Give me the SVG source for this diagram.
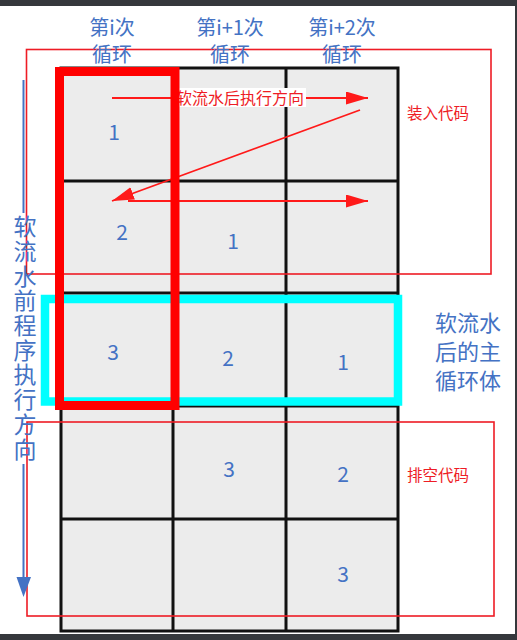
<svg xmlns="http://www.w3.org/2000/svg" width="517" height="640" viewBox="0 0 517 640">
<defs>
<style>
.cjk{font-family:"Noto Sans CJK SC","Noto Sans",sans-serif}
.blue{fill:#4472c4}
.num{font-family:"Noto Sans CJK SC","Noto Sans",sans-serif;font-size:21px;fill:#4472c4;text-anchor:middle}
.hdr{font-family:"Noto Sans CJK SC","Noto Sans",sans-serif;font-size:20px;fill:#4472c4;text-anchor:middle}
.grid{stroke:#111;stroke-width:3;fill:none}
.thin{fill:none;stroke:#ee1c25;stroke-width:1.6}
.arr{stroke:#ff1a1a;stroke-width:1.8;fill:none;marker-end:url(#rh)}
.lbl{font-family:"Noto Sans CJK SC","Noto Sans",sans-serif;fill:#ee1c25}
</style>
<marker id="rh" markerUnits="userSpaceOnUse" markerWidth="24" markerHeight="14" refX="22" refY="6.5" orient="auto">
<path d="M0,0 L22,6.5 L0,13 z" fill="#ff1a1a"/>
</marker>
</defs>
<rect x="0" y="0" width="517" height="640" fill="#ffffff"/>
<rect x="0" y="0" width="517" height="6" fill="#35383c"/>
<rect x="0" y="634" width="517" height="6" fill="#35383c"/>
<rect x="515" y="0" width="2" height="640" fill="#35383c"/>

<g id="grid">
<rect x="61" y="68" width="337" height="563" fill="#ececec"/>
<path class="grid" d="M61,68 H398 V631 H61 Z M173,68 V631 M286,68 V631 M61,181 H398 M61,293 H398 M61,406 H398 M61,519 H398"/>
</g>

<g id="cell-numbers">
<text class="num" x="114" y="140">1</text>
<text class="num" x="122" y="240">2</text>
<text class="num" x="233" y="249">1</text>
<text class="num" x="113" y="360">3</text>
<text class="num" x="228" y="366">2</text>
<text class="num" x="343" y="370">1</text>
<text class="num" x="229" y="477">3</text>
<text class="num" x="343" y="482">2</text>
<text class="num" x="343" y="582">3</text>
</g>

<g id="load-code">
<rect class="thin" x="26.5" y="49.5" width="464.5" height="224.5"/>
<text class="lbl" x="407" y="119" font-size="15.5">装入代码</text>
</g>

<g id="drain-code">
<rect class="thin" x="27" y="422" width="467" height="194"/>
<text class="lbl" x="407" y="481" font-size="15.5">排空代码</text>
</g>

<g id="connectors">
<line class="arr" x1="112" y1="98" x2="368" y2="98"/>
<line class="arr" x1="360" y1="110" x2="112" y2="201"/>
<line class="arr" x1="128" y1="201" x2="368" y2="201"/>
<path d="M23.5,80 V213 M23.5,464 V580" stroke="#4472c4" stroke-width="2" fill="none"/>
<path d="M16.5,577 L31,577 L23.5,597 Z" fill="#4472c4"/>
</g>

<g id="exec-label">
<rect x="172" y="88" width="134" height="19" fill="#ffffff"/>
<text class="lbl" x="240" y="104" font-size="16" text-anchor="middle">软流水后执行方向</text>
</g>

<g id="main-loop">
<rect x="45" y="299" width="353" height="102.5" fill="none" stroke="#00ffff" stroke-width="8.5"/>
<text class="cjk blue" font-size="22" x="468" y="331" text-anchor="middle">软流水</text>
<text class="cjk blue" font-size="22" x="468" y="360" text-anchor="middle">后的主</text>
<text class="cjk blue" font-size="22" x="468" y="389" text-anchor="middle">循环体</text>
</g>

<g id="iteration-i">
<rect x="59.5" y="71.5" width="115.5" height="334" fill="none" stroke="#ff0000" stroke-width="9"/>
</g>

<g id="headers">
<text class="hdr" x="112" y="35">第i次</text>
<text class="hdr" x="112" y="62">循环</text>
<text class="hdr" x="230" y="35">第i+1次</text>
<text class="hdr" x="230" y="62">循环</text>
<text class="hdr" x="342" y="35">第i+2次</text>
<text class="hdr" x="342" y="62">循环</text>
</g>

<g id="pre-direction">
<text class="cjk blue" font-size="23" x="25" y="215" letter-spacing="1.7" style="writing-mode:vertical-rl">软流水前程序执行方向</text>
</g>
</svg>
